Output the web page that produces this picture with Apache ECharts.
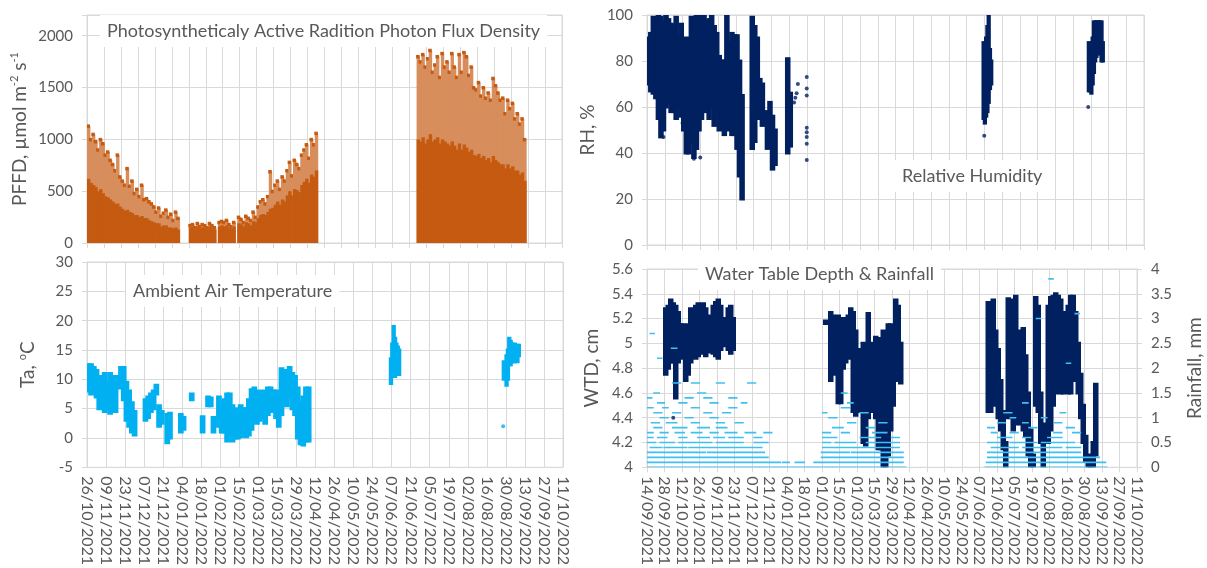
<!DOCTYPE html>
<html>
<head>
<meta charset="utf-8">
<script src="https://cdn.jsdelivr.net/npm/echarts@6/dist/echarts.min.js"></script>
<style>
  html, body { margin: 0; padding: 0; background: #fff; }
  #chart { width: 1207px; height: 568px; }
</style>
</head>
<body>
<div id="chart"></div>
<script>
// All x values are day offsets counted from 14/09/2021 (day 0).
const dateTicks = ['14/09/2021','28/09/2021','12/10/2021','26/10/2021','09/11/2021','23/11/2021',
  '07/12/2021','21/12/2021','04/01/2022','18/01/2022','01/02/2022','15/02/2022','01/03/2022',
  '15/03/2022','29/03/2022','12/04/2022','26/04/2022','10/05/2022','24/05/2022','07/06/2022',
  '21/06/2022','05/07/2022','19/07/2022','02/08/2022','16/08/2022','30/08/2022','13/09/2022',
  '27/09/2022','11/10/2022'];

// PFFD (µmol m-2 s-1): two-day blocks, daily peak and the level below which readings are dense
const pffdStartA = 0;
const pffdMaxA = [1130,1000,1050,980,900,1000,960,850,880,800,760,700,850,640,600,560,720,550,600,480,
  520,450,560,420,430,400,380,350,300,340,260,290,320,250,280,220,300,240,null,null,
  null,null,170,180,150,190,160,180,170,150,190,170,150,null,200,210,200,220,180,160,
  200,null,250,230,200,260,240,220,300,250,350,400,420,380,450,690,500,560,600,520,
  640,600,700,780,650,800,760,720,850,900,950,820,1000,950,1060];
const pffdDenseA = [620,580,560,540,500,520,480,450,440,420,400,380,380,350,330,310,320,300,290,270,
  270,250,260,240,240,220,210,200,190,190,160,170,170,150,150,140,150,130,null,null,
  null,null,150,160,130,160,140,150,150,130,160,140,130,null,160,170,160,170,150,140,
  160,null,190,180,160,200,190,170,210,200,240,270,280,270,300,330,340,370,400,370,
  420,400,460,500,460,520,510,490,560,590,620,580,660,640,700];
const pffdStartB = 272;
const pffdMaxB = [1800,1750,1820,1700,1780,1860,1650,1720,1800,1600,1830,1700,1750,1650,1830,1700,1600,1820,1650,1840,
  1800,1620,1700,1500,1480,1550,1420,1500,1400,1450,1380,1590,1520,1450,1380,1400,1250,1380,1300,1350,
  1200,1250,1150,1200,1000];
const pffdDenseB = [1000,980,1020,960,1000,1050,980,1000,1020,960,1000,980,960,940,980,940,900,960,900,950,
  920,880,900,850,840,860,820,840,800,820,780,840,800,780,760,760,720,760,720,740,
  700,700,660,680,600];

// Air temperature (ºC): two-day blocks from day 42, [low, high]
const taStart = 42;
const taLow = [8,7.5,8,7,5,5.5,4.5,5,4.2,5,4.5,8.5,9,6.5,3,2,1,0.5,null,null,
  null,3,3.5,4.5,5,7.5,2,2.5,null,-0.8,0,null,null,null,1,1.5,null,null,6.5,null,
  null,null,1,null,5.5,5.5,1,null,2,1,1,-0.5,0.5,-0.5,0,0,0.2,0.5,0.2,0.5,
  1.5,3,2.5,3,3.5,2.5,4,4.5,4.5,3.5,2,4,6,5.5,7,5,4,0,-1,-1.2,
  -0.5,-0.5];
const taHigh = [12.5,12.5,12,11.5,10.5,10,11,9.5,11,10,10.5,10.5,12,12,9.5,8,6,4.5,null,null,
  null,6.5,7,7.5,8,9,5.5,4.5,null,4,4.2,null,null,null,4,3.5,null,null,7.5,null,
  null,null,3.6,null,7,6.8,3.5,null,7,6,6.5,7.5,7.5,5.5,4.5,5,5.5,5,5,6.5,
  8.2,8.5,8,7.5,8,7.5,8.5,8.5,8,8,7,11.8,11.5,11,12,11,10.5,8.5,6,7,
  8.5,8.5];
// Summer bursts, one value per day
const taSummerDays = [265,266,267,268,269,270,271, 348,349,350,351,352,353,354,355,356,357,358,359];
const taSummerLow  = [9.3,10.5,11,10.5,11,12,10.8, 10,10.5,9,10,12.5,12.5,13,13,13,13.5,13,14];
const taSummerHigh = [13.5,16,19,17,16,15.5,15, 13,12.5,14,15,17,16.5,16,15.5,16,15.5,15.8,15.8];
const taSingles = [[348, 2.0]];

// Relative humidity (%): two-day blocks from day 0, [low, high]
const rhStart = 0;
const rhLow = [70,67,66,64,55,47,50,60,62,58,58,55,60,56,50,40,40,45,38,42,
  50,55,60,58,55,60,52,58,50,55,48,55,50,48,48,42,30,20,null,null,
  null,42,45,55,55,52,null,42,46,33,35,null,null,null,null,40,43,null,null];
const rhHigh = [90,92,99,98,100,99,97,100,98,96,95,99,90,96,88,90,86,99,95,100,
  100,99,100,97,98,100,95,92,82,80,80,100,88,92,91,91,80,65,null,null,
  null,99,95,90,72,70,null,58,62,56,50,null,null,null,null,81,66,null,null];
const rhSummerDays = [265,266,267,268,269,270,271, 348,349,350,351,352,353,354,355,356,357,358,359];
const rhSummerLow  = [55,53,56,58,62,68,70, 67,67,66,70,75,80,82,85,83,85,80,80];
const rhSummerHigh = [88,85,90,95,100,85,80, 88,85,82,90,97,97,97,97,97,97,97,88];
const rhSingles = [[116,62],[117,64],[118,66],[119,70],[126,73],[126,68],[126,65],[126,51],[126,49],
  [126,47],[126,44],[126,37],[266,47.5],[348,60],[13,47],[37,37.5],[42,38],[28,53]];

// Water table depth (cm): two-day blocks, [low, high]
const wtdStartA = 14;
const wtdLowA  = [4.75,4.8,4.85,4.85,4.56,4.85,4.9,4.88,4.7,4.75,4.85,4.9,4.88,4.9,4.92,4.95,4.9,4.93,4.95,4.92,
  4.9,4.88,4.95,4.98,5.0,4.95,4.92,4.95];
const wtdHighA = [5.28,5.3,5.35,5.32,5.3,5.25,5.15,5.15,5.12,5.15,5.28,5.25,5.3,5.32,5.3,5.32,5.28,5.22,5.2,5.3,
  5.33,5.35,5.3,5.2,5.15,5.28,5.3,5.2];
const wtdStartB = 142;
const wtdLowB  = [5.16,null,4.7,4.75,4.85,4.52,4.52,4.8,4.85,4.9,4.88,4.45,4.42,4.45,4.5,4.2,4.18,4.4,4.45,4.55,
  4.4,4.15,4.15,4.0,4.0,4.1,4.3,4.5,4.7,4.7,4.68];
const wtdHighB = [5.18,null,5.25,5.22,5.2,5.22,5.2,5.15,5.2,5.22,5.28,5.25,5.1,4.9,4.95,5.0,4.6,5.24,5.0,4.95,
  5.05,5.04,4.5,5.1,4.4,5.15,5.15,5.0,5.35,5.3,5.0];
const wtdStartC = 272;
const wtdLowC  = [4.45,4.45,4.5,4.6,4.4,4.3,4.15,4.0,4.4,4.5,4.3,4.35,4.4,4.35,4.3,4.25,4.1,4.0,4.0,4.5,
  4.45,4.2,4.0,4.2,4.2,4.3,4.5,4.6,4.7,4.6,4.6,4.7,4.6,4.6,4.7,4.7,4.6,4.4,4.2,4.05,
  4.0,4.0,4.0,4.1];
const wtdHighC = [5.33,5.3,5.35,5.1,4.95,4.7,4.45,4.2,5.36,5.3,5.35,5.38,5.1,5.0,5.12,4.9,4.6,4.3,4.1,5.37,
  5.3,4.6,4.2,4.35,5.3,5.37,5.38,5.4,5.38,5.35,5.25,5.25,5.3,5.38,5.38,5.25,5.0,4.75,4.5,4.25,
  4.1,4.0,4.2,4.67];
const wtdSingles = [[21, 4.40]];

// Rainfall (mm, 0.1 mm steps): runs of readings at one level, [mm, fromDay, toDay]
const rainRuns = [
  [0,0,205],[0,270,366],
  [0.1,0,105],[0.1,108,112],[0.1,118,124],[0.1,133,137],[0.1,139,203],[0.1,271,365],
  [0.2,0,95],[0.2,139,203],[0.2,272,360],
  [0.3,0,12],[0.3,14,45],[0.3,48,92],[0.3,139,160],[0.3,163,203],[0.3,272,300],[0.3,303,345],
  [0.4,2,10],[0.4,13,30],[0.4,33,60],[0.4,62,90],[0.4,140,150],[0.4,152,200],[0.4,275,295],[0.4,300,330],[0.4,335,345],
  [0.5,0,5],[0.5,10,20],[0.5,25,50],[0.5,55,75],[0.5,85,95],[0.5,140,145],[0.5,150,165],[0.5,175,200],[0.5,272,280],[0.5,290,310],[0.5,315,340],
  [0.6,0,3],[0.6,8,14],[0.6,25,30],[0.6,40,48],[0.6,53,60],[0.6,65,75],[0.6,85,90],[0.6,140,150],[0.6,170,185],[0.6,195,200],[0.6,280,290],[0.6,300,305],[0.6,320,330],
  [0.7,0,3],[0.7,10,15],[0.7,22,28],[0.7,35,42],[0.7,50,55],[0.7,62,70],[0.7,78,85],[0.7,93,98],[0.7,140,145],[0.7,155,160],[0.7,180,190],[0.7,275,278],[0.7,290,295],[0.7,325,330],[0.7,340,345],
  [0.8,5,10],[0.8,20,30],[0.8,40,48],[0.8,55,62],[0.8,148,155],[0.8,175,180],[0.8,272,276],[0.8,305,310],[0.8,335,340],
  [0.9,3,8],[0.9,15,22],[0.9,35,40],[0.9,55,60],[0.9,70,75],[0.9,160,165],[0.9,185,190],[0.9,280,285],[0.9,300,303],[0.9,325,330],
  [1.0,10,15],[1.0,30,35],[1.0,50,55],[1.0,145,150],[1.0,290,293],[1.0,315,318],
  [1.1,5,10],[1.1,20,25],[1.1,45,50],[1.1,60,65],[1.1,140,142],[1.1,170,175],[1.1,285,290],[1.1,330,333],
  [1.2,0,3],[1.2,12,15],[1.2,35,40],[1.2,65,70],[1.2,155,160],
  [1.3,8,12],[1.3,25,30],[1.3,50,55],[1.3,75,78],[1.3,160,163],[1.3,300,303],
  [1.4,0,2],[1.4,30,35],[1.4,45,50],[1.4,65,70],
  [1.5,5,8],[1.5,40,45],[1.5,155,158],
  [1.7,20,25],[1.7,35,40],[1.7,55,60],[1.7,80,85],
  [2.2,8,10],[2.4,19,22],[2.7,2,4],[3.0,311,313],[3.1,342,344],[2.1,335,337],[3.8,321,323]
];

const GRID_C = '#d9d9d9', TEXT_C = '#595959', FONT = 'Lato';
const ORANGE = '#c55a11', ORANGE_SPARSE = '#d78e5c', SKY = '#00b0f0', NAVY = '#002060';

// Build [day, low, high, span] blocks from a start day and two aligned arrays.
function blocks(start, step, lows, highs) {
  const out = [];
  lows.forEach((lo, i) => {
    if (lo == null || highs[i] == null) return;
    out.push([start + i * step, lo, highs[i], step]);
  });
  return out;
}
function dayBlocks(days, lows, highs) {
  return days.map((d, i) => [d, lows[i], highs[i], 1]);
}

// Vertical band covering one block, padded by the marker radius.
function bandRenderer(color, pad) {
  return function (params, api) {
    const a = api.coord([api.value(0), api.value(2)]);
    const b = api.coord([api.value(0) + api.value(3), api.value(1)]);
    return {
      type: 'rect',
      shape: { x: a[0] - pad, y: a[1] - pad, width: b[0] - a[0] + 2 * pad, height: b[1] - a[1] + 2 * pad },
      style: { fill: color }
    };
  };
}

// PFFD scattered readings: tint from zero to the daily peak, with a square at the peak.
function pffdSparseRenderer(params, api) {
  const d = api.value(0), peak = api.value(2), span = api.value(3);
  const base = api.coord([d, 0]);
  const pk = api.coord([d + span, peak]);
  const w = pk[0] - base[0] + 1;
  return {
    type: 'group',
    children: [
      { type: 'rect', shape: { x: base[0], y: pk[1], width: w, height: base[1] - pk[1] }, style: { fill: ORANGE_SPARSE } },
      { type: 'rect', shape: { x: base[0] - 0.5, y: pk[1] - 1.5, width: 3.5, height: 3.5 }, style: { fill: ORANGE } }
    ]
  };
}
// PFFD dense readings: solid from zero to the dense level.
function pffdDenseRenderer(params, api) {
  const d = api.value(0), dense = api.value(1), span = api.value(3);
  const base = api.coord([d, 0]);
  const dn = api.coord([d + span, dense]);
  return {
    type: 'rect',
    shape: { x: base[0], y: dn[1], width: dn[0] - base[0] + 1, height: base[1] - dn[1] },
    style: { fill: ORANGE }
  };
}

function rainRenderer(params, api) {
  const a = api.coord([api.value(1), api.value(0)]);
  const b = api.coord([api.value(2), api.value(0)]);
  return {
    type: 'line',
    shape: { x1: a[0], y1: a[1], x2: b[0] + 3, y2: b[1] },
    style: { stroke: '#3ec0f2', lineWidth: 1.6 }
  };
}

const pffdData = blocks(pffdStartA, 2, pffdDenseA, pffdMaxA).concat(blocks(pffdStartB, 2, pffdDenseB, pffdMaxB));
const taData = blocks(taStart, 2, taLow, taHigh).concat(dayBlocks(taSummerDays, taSummerLow, taSummerHigh));
const rhData = blocks(rhStart, 2, rhLow, rhHigh).concat(dayBlocks(rhSummerDays, rhSummerLow, rhSummerHigh));
const wtdData = blocks(wtdStartA, 2, wtdLowA, wtdHighA)
  .concat(blocks(wtdStartB, 2, wtdLowB, wtdHighB))
  .concat(blocks(wtdStartC, 2, wtdLowC, wtdHighC));

const dateLabel = v => {
  const k = Math.round(v / 14);
  return Math.abs(v - k * 14) < 1e-6 ? (dateTicks[k] || '') : '';
};

function xAxis(grid, min, showLabels) {
  return {
    type: 'value', gridIndex: grid, min: min, max: 392, interval: 14,
    axisLine: { show: true, lineStyle: { color: GRID_C } },
    axisTick: { show: true, length: 5, lineStyle: { color: GRID_C } },
    splitLine: { show: true, lineStyle: { color: GRID_C, width: 1 } },
    axisLabel: showLabels ? {
      show: true, rotate: -90, margin: 9, color: TEXT_C, fontFamily: FONT, fontSize: 16,
      formatter: dateLabel
    } : { show: false }
  };
}
const NAME_STYLE = { color: TEXT_C, fontFamily: FONT, fontSize: 19, lineHeight: 22 };
function yAxis(grid, min, max, interval, extra) {
  return Object.assign({
    type: 'value', gridIndex: grid, min: min, max: max, interval: interval,
    axisLine: { show: true, lineStyle: { color: GRID_C } },
    axisTick: { show: true, length: 5, lineStyle: { color: GRID_C } },
    splitLine: { show: true, lineStyle: { color: GRID_C, width: 1 } },
    axisLabel: { color: TEXT_C, fontFamily: FONT, fontSize: 15, margin: 14 },
    nameLocation: 'middle', nameRotate: 90,
    nameTextStyle: NAME_STYLE
  }, extra || {});
}

const supRich = {
  sup: { fontSize: 11, verticalAlign: 'top', color: TEXT_C, fontFamily: FONT, lineHeight: 22, padding: [0, 0, 9, 0] }
};

function panelTitle(text, left, top) {
  return {
    text: text, left: left, top: top,
    backgroundColor: '#fff', padding: [5, 7, 5, 7],
    textStyle: { color: TEXT_C, fontFamily: FONT, fontSize: 18, fontWeight: 'normal', lineHeight: 22 }
  };
}

const option = {
  animation: false,
  backgroundColor: '#fff',
  grid: [
    { left: 87, top: 15, width: 475, height: 228, show: true, borderColor: GRID_C, borderWidth: 1, backgroundColor: 'transparent' },
    { left: 87, top: 262, width: 476, height: 207, show: true, borderColor: GRID_C, borderWidth: 1, backgroundColor: 'transparent' },
    { left: 647, top: 15, width: 497, height: 230, show: true, borderColor: GRID_C, borderWidth: 1, backgroundColor: 'transparent' },
    { left: 647, top: 269, width: 497, height: 205, show: true, borderColor: GRID_C, borderWidth: 1, backgroundColor: 'transparent' }
  ],
  xAxis: [xAxis(0, 0, false), xAxis(1, 42, true), xAxis(2, 0, false), xAxis(3, 0, true)],
  yAxis: [
    yAxis(0, 0, 2200, 500, {
      name: 'PFFD, µmol m{sup|-2} s{sup|-1}', nameGap: 56,
      nameTextStyle: Object.assign({ rich: supRich }, NAME_STYLE),
      axisLabel: { color: TEXT_C, fontFamily: FONT, fontSize: 15, margin: 14, formatter: v => (v > 2000 ? '' : String(v)) }
    }),
    yAxis(1, -5, 30, 5, {
      name: 'Ta, {sup|o}C', nameGap: 48,
      nameTextStyle: Object.assign({ rich: supRich }, NAME_STYLE)
    }),
    yAxis(2, 0, 100, 20, { name: 'RH, %', nameGap: 48 }),
    yAxis(3, 4, 5.6, 0.2, {
      name: 'WTD, cm', nameGap: 44,
      axisLabel: { color: TEXT_C, fontFamily: FONT, fontSize: 15, margin: 14, formatter: v => String(+v.toFixed(1)) }
    }),
    yAxis(3, 0, 4, 0.5, {
      position: 'right', name: 'Rainfall, mm', nameGap: 47,
      splitLine: { show: false },
      axisLabel: { color: TEXT_C, fontFamily: FONT, fontSize: 15, margin: 14, formatter: v => String(+v.toFixed(1)) }
    })
  ],
  title: [
    panelTitle('Photosyntheticaly Active Radition Photon Flux Density', 100, 15),
    panelTitle('Ambient Air Temperature', 126, 275),
    panelTitle('Relative Humidity', 895, 160),
    panelTitle('Water Table Depth & Rainfall', 698, 258)
  ],
  series: [
    { type: 'custom', xAxisIndex: 0, yAxisIndex: 0, data: pffdData, renderItem: pffdSparseRenderer, clip: true, encode: { x: 0, y: [1, 2] }, z: 2 },
    { type: 'custom', xAxisIndex: 0, yAxisIndex: 0, data: pffdData, renderItem: pffdDenseRenderer, clip: true, encode: { x: 0, y: [1, 2] }, z: 3 },
    { type: 'custom', xAxisIndex: 1, yAxisIndex: 1, data: taData, renderItem: bandRenderer(SKY, 1.5), clip: true, encode: { x: 0, y: [1, 2] } },
    { type: 'scatter', xAxisIndex: 1, yAxisIndex: 1, data: taSingles, symbolSize: 4, itemStyle: { color: SKY } },
    { type: 'custom', xAxisIndex: 2, yAxisIndex: 2, data: rhData, renderItem: bandRenderer(NAVY, 1.5), clip: true, encode: { x: 0, y: [1, 2] } },
    { type: 'scatter', xAxisIndex: 2, yAxisIndex: 2, data: rhSingles, symbolSize: 4, itemStyle: { color: NAVY } },
    { type: 'custom', xAxisIndex: 3, yAxisIndex: 3, data: wtdData, renderItem: bandRenderer(NAVY, 1.5), clip: true, encode: { x: 0, y: [1, 2] } },
    { type: 'scatter', xAxisIndex: 3, yAxisIndex: 3, data: wtdSingles, symbolSize: 4, itemStyle: { color: NAVY } },
    { type: 'custom', xAxisIndex: 3, yAxisIndex: 4, data: rainRuns, renderItem: rainRenderer, clip: true, encode: { x: [1, 2], y: 0 }, z: 5 }
  ]
};

const chart = echarts.init(document.getElementById('chart'), null, { renderer: 'canvas' });
chart.setOption(option);
</script>
</body>
</html>
